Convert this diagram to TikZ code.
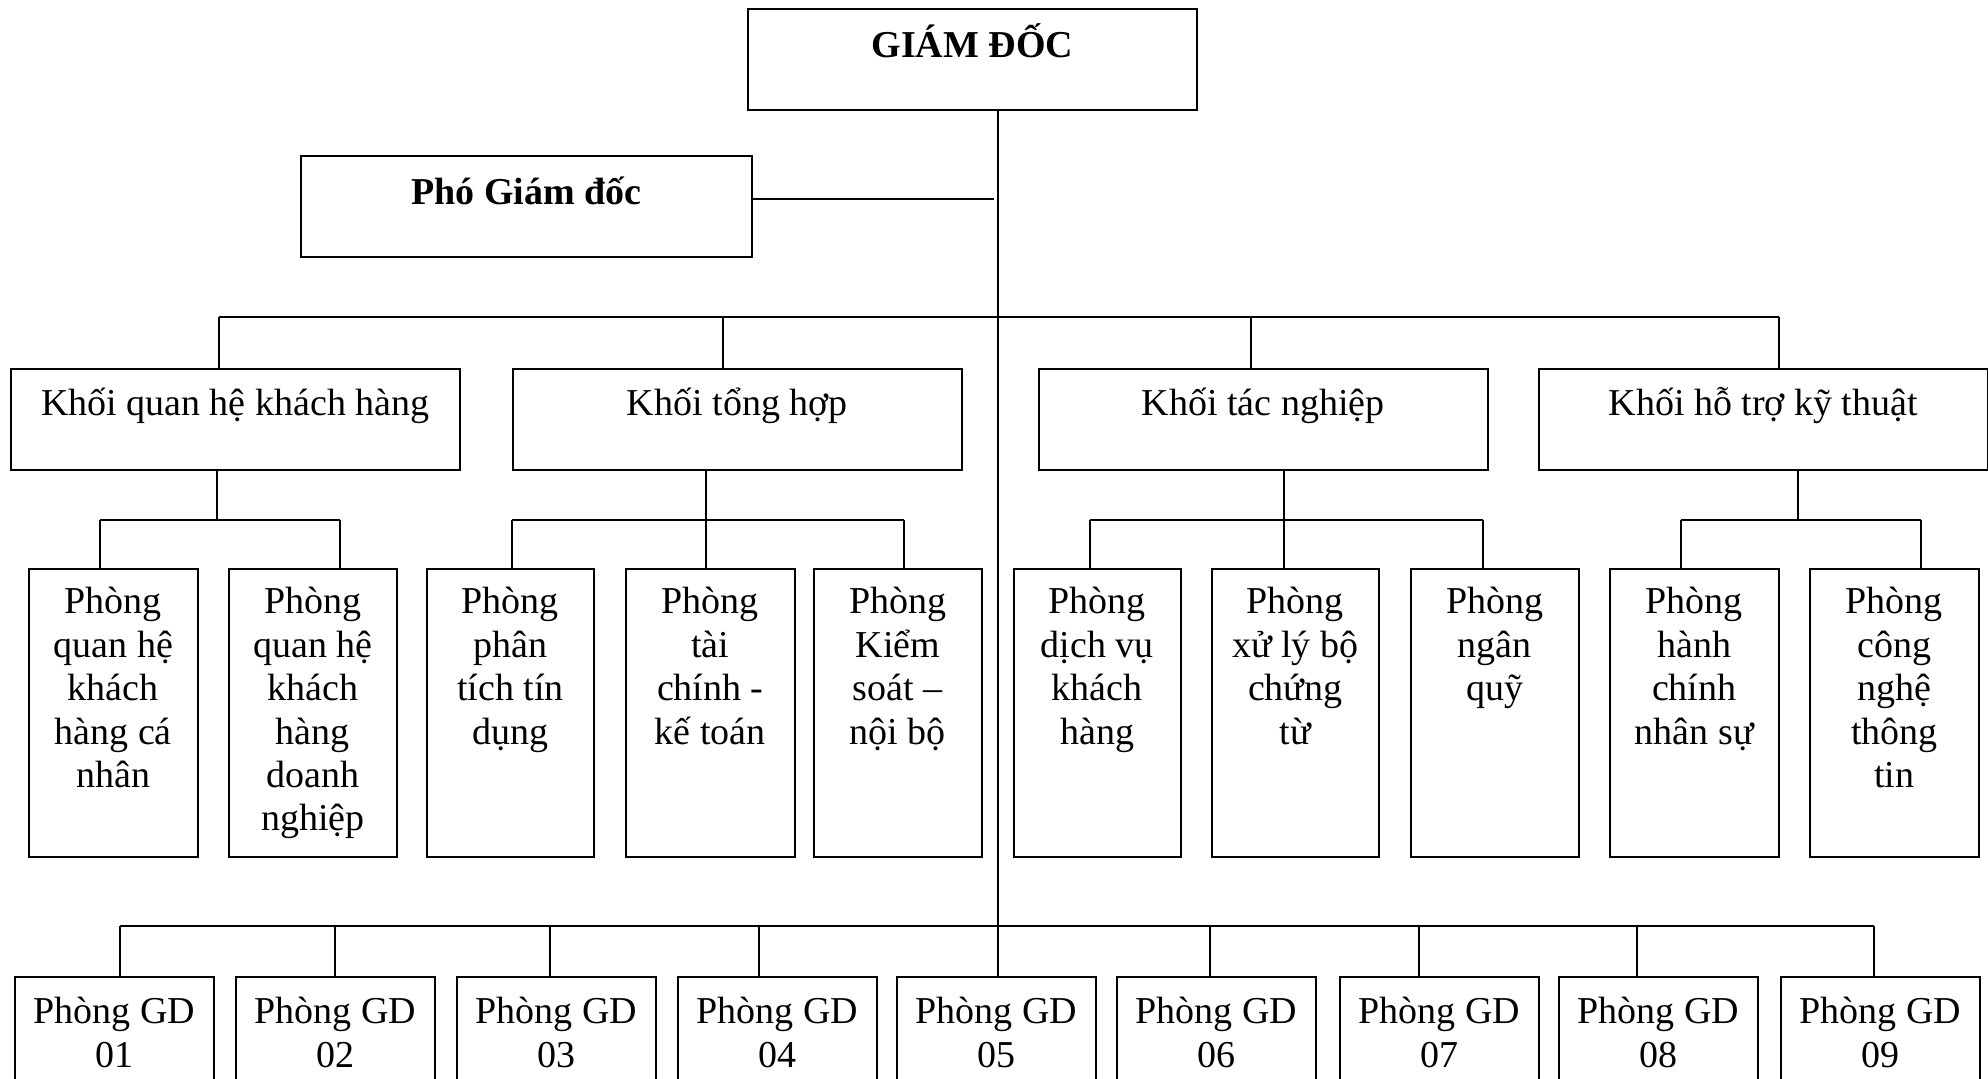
\documentclass[tikz,border=0pt]{standalone}
\usepackage{fontspec}
\setmainfont{Liberation Serif}
\usetikzlibrary{positioning}
\newcommand{\boxtxt}[4][23.5pt]{\parbox[c][#3][t]{#2}{\centering\rule{0pt}{#1}#4}}

\begin{document}
\begin{tikzpicture}[x=0.5pt,y=-0.5pt]
	\tikzstyle{box}=[draw=black,line width=0.8pt,inner sep=0pt,anchor=north west,font=\fontsize{19}{21.7}\selectfont]
	\tikzstyle{link}=[line width=0.6pt]
	\useasboundingbox (0,0) rectangle (1988,1078);
	\clip (0,0) rectangle (1988,1078);
	% ban giam doc
	\node[box](gd) at (747,8) {\boxtxt[24.5pt]{224.5pt}{50.5pt}{\textbf{GIÁM ĐỐC}}};
	\node[box](pgd) at (300,155) {\boxtxt[24.5pt]{225.5pt}{50.5pt}{\textbf{Phó Giám đốc}}};
	% cac khoi
	\node[box](k1) at (10,368) {\boxtxt{224.5pt}{50.5pt}{Khối quan hệ khách hàng}};
	\node[box](k2) at (512,368) {\boxtxt{224.5pt}{50.5pt}{Khối tổng hợp}};
	\node[box](k3) at (1038,368) {\boxtxt{224.5pt}{50.5pt}{Khối tác nghiệp}};
	\node[box](k4) at (1538,368) {\boxtxt{224.5pt}{50.5pt}{Khối hỗ trợ kỹ thuật}};
	% cac phong
	\node[box](r1) at (28,568) {\boxtxt[22.5pt]{84.5pt}{144pt}{Phòng\\quan hệ\\khách\\hàng cá\\nhân}};
	\node[box](r2) at (228,568) {\boxtxt[22.5pt]{84pt}{144pt}{Phòng\\quan hệ\\khách\\hàng\\doanh\\nghiệp}};
	\node[box](r3) at (426,568) {\boxtxt[22.5pt]{83.5pt}{144pt}{Phòng\\phân\\tích tín\\dụng}};
	\node[box](r4) at (625,568) {\boxtxt[22.5pt]{84.5pt}{144pt}{Phòng\\tài\\chính -\\kế toán}};
	\node[box](r5) at (813,568) {\boxtxt[22.5pt]{84pt}{144pt}{Phòng\\Kiểm\\soát –\\nội bộ}};
	\node[box](r6) at (1013,568) {\boxtxt[22.5pt]{83.5pt}{144pt}{Phòng\\dịch vụ\\khách\\hàng}};
	\node[box](r7) at (1211,568) {\boxtxt[22.5pt]{83.5pt}{144pt}{Phòng\\xử lý bộ\\chứng\\từ}};
	\node[box](r8) at (1410,568) {\boxtxt[22.5pt]{84pt}{144pt}{Phòng\\ngân\\quỹ}};
	\node[box](r9) at (1609,568) {\boxtxt[22.5pt]{84.5pt}{144pt}{Phòng\\hành\\chính\\nhân sự}};
	\node[box](r10) at (1809,568) {\boxtxt[22.5pt]{84.5pt}{144pt}{Phòng\\công\\nghệ\\thông\\tin}};
	% phong giao dich
	\node[box](gd01) at (14,976) {\boxtxt{99.5pt}{62pt}{Phòng GD\\01}};
	\node[box](gd02) at (235,976) {\boxtxt{99.5pt}{62pt}{Phòng GD\\02}};
	\node[box](gd03) at (456,976) {\boxtxt{99.5pt}{62pt}{Phòng GD\\03}};
	\node[box](gd04) at (677,976) {\boxtxt{99.5pt}{62pt}{Phòng GD\\04}};
	\node[box](gd05) at (896,976) {\boxtxt{99.5pt}{62pt}{Phòng GD\\05}};
	\node[box](gd06) at (1116,976) {\boxtxt{99.5pt}{62pt}{Phòng GD\\06}};
	\node[box](gd07) at (1339,976) {\boxtxt{99.5pt}{62pt}{Phòng GD\\07}};
	\node[box](gd08) at (1558,976) {\boxtxt{99.5pt}{62pt}{Phòng GD\\08}};
	\node[box](gd09) at (1780,976) {\boxtxt{99.5pt}{62pt}{Phòng GD\\09}};
	% truc chinh
	\coordinate (t0) at (998,317);
	\draw[link] (gd.south -| t0) -- (gd05.north -| t0);
	\coordinate (p0) at (994,199);
	\draw[link] (pgd.east |- p0) -- (p0);
	% nhanh cac khoi
	\coordinate (b1) at (219,317);
	\coordinate (b2) at (723,317);
	\coordinate (b3) at (1251,317);
	\coordinate (b4) at (1779,317);
	\draw[link] (b1) -- (b4);
	\draw[link] (b1) -- (b1 |- k1.north);
	\draw[link] (b2) -- (b2 |- k2.north);
	\draw[link] (b3) -- (b3 |- k3.north);
	\draw[link] (b4) -- (b4 |- k4.north);
	% khoi quan he khach hang
	\coordinate (s1) at (217,520);
	\coordinate (s1a) at (100,520);
	\coordinate (s1b) at (340,520);
	\draw[link] (k1.south -| s1) -- (s1);
	\draw[link] (s1a) -- (s1b);
	\draw[link] (s1a) -- (s1a |- r1.north);
	\draw[link] (s1b) -- (s1b |- r2.north);
	% khoi tong hop
	\coordinate (s2) at (706,520);
	\coordinate (s2a) at (512,520);
	\coordinate (s2b) at (904,520);
	\draw[link] (k2.south -| s2) -- (s2 |- r4.north);
	\draw[link] (s2a) -- (s2b);
	\draw[link] (s2a) -- (s2a |- r3.north);
	\draw[link] (s2b) -- (s2b |- r5.north);
	% khoi tac nghiep
	\coordinate (s3) at (1284,520);
	\coordinate (s3a) at (1090,520);
	\coordinate (s3b) at (1483,520);
	\draw[link] (k3.south -| s3) -- (s3 |- r7.north);
	\draw[link] (s3a) -- (s3b);
	\draw[link] (s3a) -- (s3a |- r6.north);
	\draw[link] (s3b) -- (s3b |- r8.north);
	% khoi ho tro ky thuat
	\coordinate (s4) at (1798,520);
	\coordinate (s4a) at (1681,520);
	\coordinate (s4b) at (1921,520);
	\draw[link] (k4.south -| s4) -- (s4);
	\draw[link] (s4a) -- (s4b);
	\draw[link] (s4a) -- (s4a |- r9.north);
	\draw[link] (s4b) -- (s4b |- r10.north);
	% cac phong giao dich
	\coordinate (g1) at (120,926);
	\coordinate (g2) at (335,926);
	\coordinate (g3) at (550,926);
	\coordinate (g4) at (759,926);
	\coordinate (g6) at (1210,926);
	\coordinate (g7) at (1419,926);
	\coordinate (g8) at (1637,926);
	\coordinate (g9) at (1874,926);
	\draw[link] (g1) -- (g9);
	\draw[link] (g1) -- (g1 |- gd01.north);
	\draw[link] (g2) -- (g2 |- gd02.north);
	\draw[link] (g3) -- (g3 |- gd03.north);
	\draw[link] (g4) -- (g4 |- gd04.north);
	\draw[link] (g6) -- (g6 |- gd06.north);
	\draw[link] (g7) -- (g7 |- gd07.north);
	\draw[link] (g8) -- (g8 |- gd08.north);
	\draw[link] (g9) -- (g9 |- gd09.north);
\end{tikzpicture}
\end{document}
